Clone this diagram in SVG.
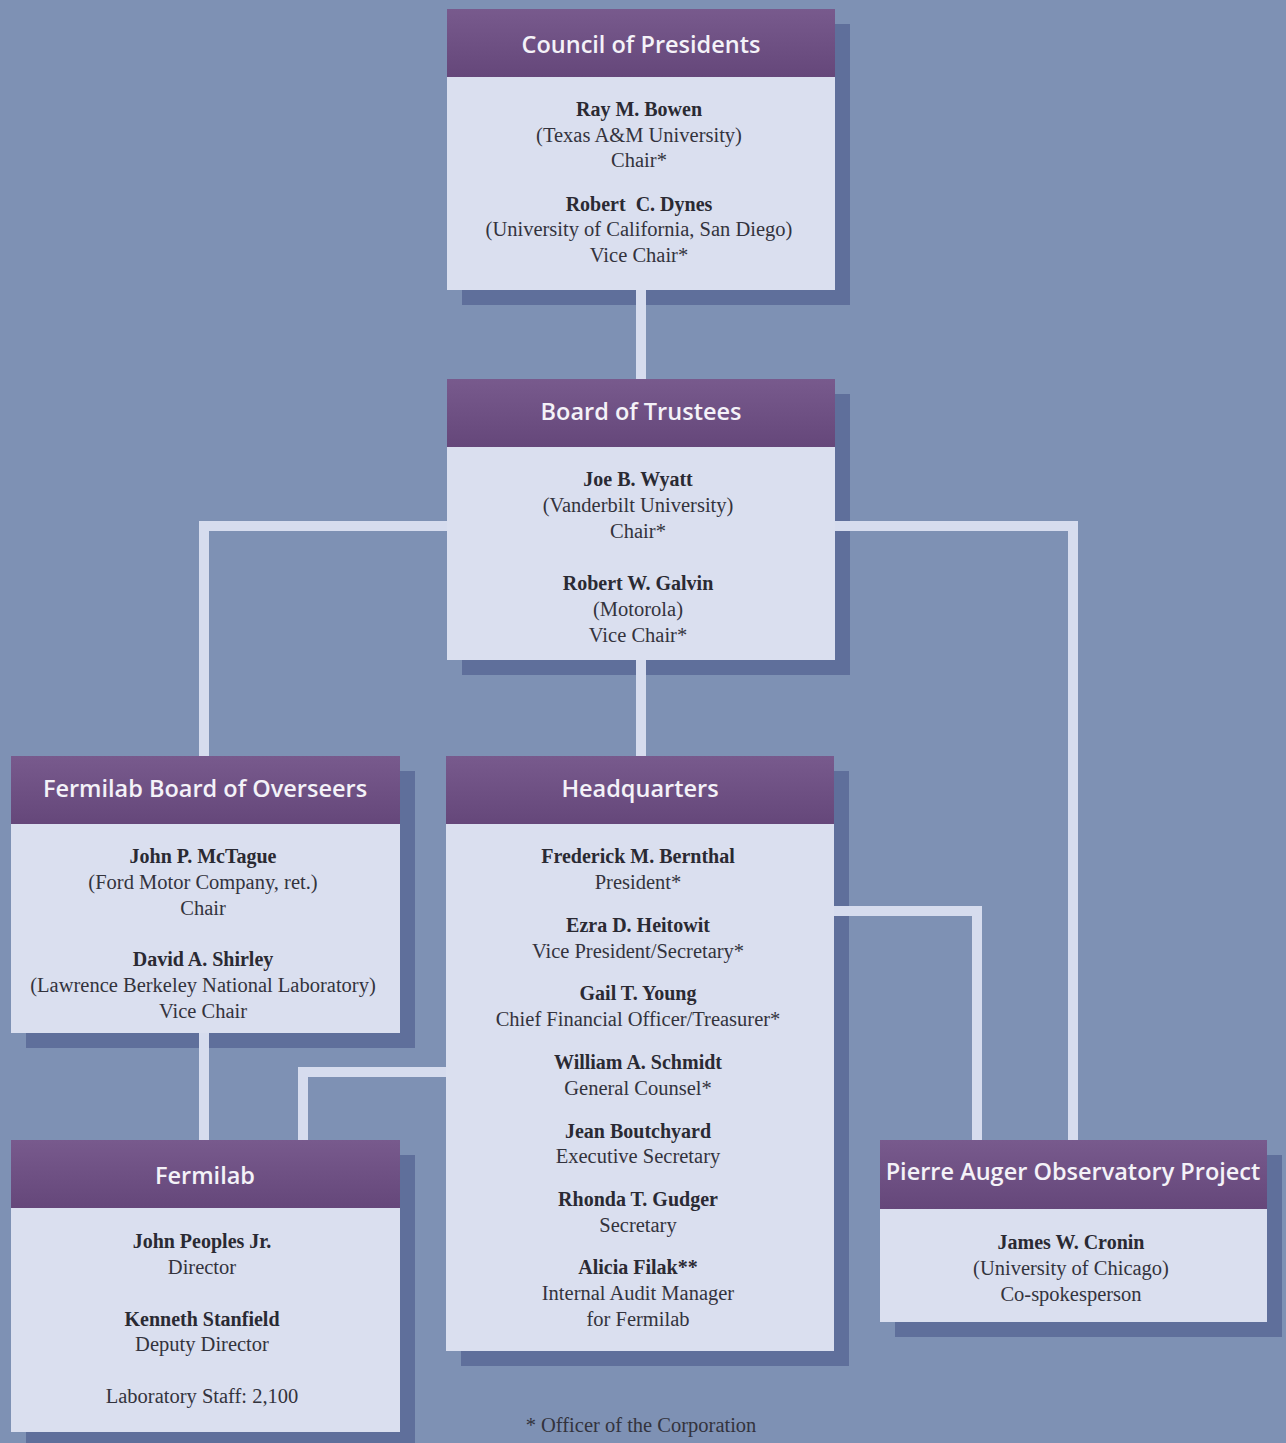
<svg xmlns="http://www.w3.org/2000/svg" width="1286" height="1443" viewBox="0 0 1286 1443">
<defs>
<linearGradient id="hdr" x1="0" y1="0" x2="0" y2="1">
<stop offset="0" stop-color="#785a8d"/>
<stop offset="1" stop-color="#65477a"/>
</linearGradient>
<style>
.bg{fill:#7e91b4}
.sh{fill:#5f6f9b}
.body{fill:#dadfef}
.hdr{fill:url(#hdr)}
.ht{font-family:"Open Sans","Liberation Sans",sans-serif;font-weight:600;font-size:23.5px;fill:#f4f2f8;text-anchor:middle}
.nm{font-family:"Liberation Serif",serif;font-weight:bold;font-size:20px;fill:#2a2a33;text-anchor:middle}
.tx{font-family:"Liberation Serif",serif;font-size:20.5px;fill:#33333d;text-anchor:middle}
.cn{stroke:#d6dcee;stroke-width:10;fill:none;stroke-linejoin:miter}
</style>
</defs>
<rect class="bg" x="0" y="0" width="1286" height="1443"/>

<g id="shadows">
<rect class="sh" x="462" y="24" width="388" height="281"/>
<rect class="sh" x="462" y="394" width="388" height="281"/>
<rect class="sh" x="26" y="771" width="389" height="277"/>
<rect class="sh" x="461" y="771" width="388" height="595"/>
<rect class="sh" x="26" y="1155" width="389" height="290"/>
<rect class="sh" x="895" y="1155" width="387" height="182"/>
</g>

<g id="connectors">
<path class="cn" d="M641 290V379"/>
<path class="cn" d="M447 526H204V756"/>
<path class="cn" d="M835 526H1073V1140"/>
<path class="cn" d="M641 660V756"/>
<path class="cn" d="M204 1033V1140"/>
<path class="cn" d="M446 1072H303V1140"/>
<path class="cn" d="M834 911H977V1140"/>
</g>

<g id="council">
<rect class="body" x="447" y="9" width="388" height="281"/>
<rect class="hdr" x="447" y="9" width="388" height="68"/>
<text class="ht" x="641" y="53">Council of Presidents</text>
<text class="nm" x="639" y="116">Ray M. Bowen</text>
<text class="tx" x="639" y="142">(Texas A&amp;M University)</text>
<text class="tx" x="639" y="167">Chair*</text>
<text class="nm" x="639" y="211" style="white-space:pre">Robert  C. Dynes</text>
<text class="tx" x="639" y="236">(University of California, San Diego)</text>
<text class="tx" x="639" y="262">Vice Chair*</text>
</g>

<g id="trustees">
<rect class="body" x="447" y="379" width="388" height="281"/>
<rect class="hdr" x="447" y="379" width="388" height="68"/>
<text class="ht" x="641" y="420">Board of Trustees</text>
<text class="nm" x="638" y="486">Joe B. Wyatt</text>
<text class="tx" x="638" y="512">(Vanderbilt University)</text>
<text class="tx" x="638" y="538">Chair*</text>
<text class="nm" x="638" y="590">Robert W. Galvin</text>
<text class="tx" x="638" y="616">(Motorola)</text>
<text class="tx" x="638" y="642">Vice Chair*</text>
</g>

<g id="overseers">
<rect class="body" x="11" y="756" width="389" height="277"/>
<rect class="hdr" x="11" y="756" width="389" height="68"/>
<text class="ht" x="205" y="797">Fermilab Board of Overseers</text>
<text class="nm" x="203" y="863">John P. McTague</text>
<text class="tx" x="203" y="889">(Ford Motor Company, ret.)</text>
<text class="tx" x="203" y="915">Chair</text>
<text class="nm" x="203" y="966">David A. Shirley</text>
<text class="tx" x="203" y="992">(Lawrence Berkeley National Laboratory)</text>
<text class="tx" x="203" y="1018">Vice Chair</text>
</g>

<g id="headquarters">
<rect class="body" x="446" y="756" width="388" height="595"/>
<rect class="hdr" x="446" y="756" width="388" height="68"/>
<text class="ht" x="640" y="797">Headquarters</text>
<text class="nm" x="638" y="863">Frederick M. Bernthal</text>
<text class="tx" x="638" y="889">President*</text>
<text class="nm" x="638" y="932">Ezra D. Heitowit</text>
<text class="tx" x="638" y="958">Vice President/Secretary*</text>
<text class="nm" x="638" y="1000">Gail T. Young</text>
<text class="tx" x="638" y="1026">Chief Financial Officer/Treasurer*</text>
<text class="nm" x="638" y="1069">William A. Schmidt</text>
<text class="tx" x="638" y="1095">General Counsel*</text>
<text class="nm" x="638" y="1138">Jean Boutchyard</text>
<text class="tx" x="638" y="1163">Executive Secretary</text>
<text class="nm" x="638" y="1206">Rhonda T. Gudger</text>
<text class="tx" x="638" y="1232">Secretary</text>
<text class="nm" x="638" y="1274">Alicia Filak**</text>
<text class="tx" x="638" y="1300">Internal Audit Manager</text>
<text class="tx" x="638" y="1326">for Fermilab</text>
</g>

<g id="fermilab">
<rect class="body" x="11" y="1140" width="389" height="292"/>
<rect class="hdr" x="11" y="1140" width="389" height="68"/>
<text class="ht" x="205" y="1184">Fermilab</text>
<text class="nm" x="202" y="1248">John Peoples Jr.</text>
<text class="tx" x="202" y="1274">Director</text>
<text class="nm" x="202" y="1326">Kenneth Stanfield</text>
<text class="tx" x="202" y="1351">Deputy Director</text>
<text class="tx" x="202" y="1403">Laboratory Staff: 2,100</text>
</g>

<g id="auger">
<rect class="body" x="880" y="1140" width="387" height="182"/>
<rect class="hdr" x="880" y="1140" width="387" height="69"/>
<text class="ht" x="1073" y="1180">Pierre Auger Observatory Project</text>
<text class="nm" x="1071" y="1249">James W. Cronin</text>
<text class="tx" x="1071" y="1275">(University of Chicago)</text>
<text class="tx" x="1071" y="1301">Co-spokesperson</text>
</g>

<text class="tx" x="641" y="1432">* Officer of the Corporation</text>
</svg>
